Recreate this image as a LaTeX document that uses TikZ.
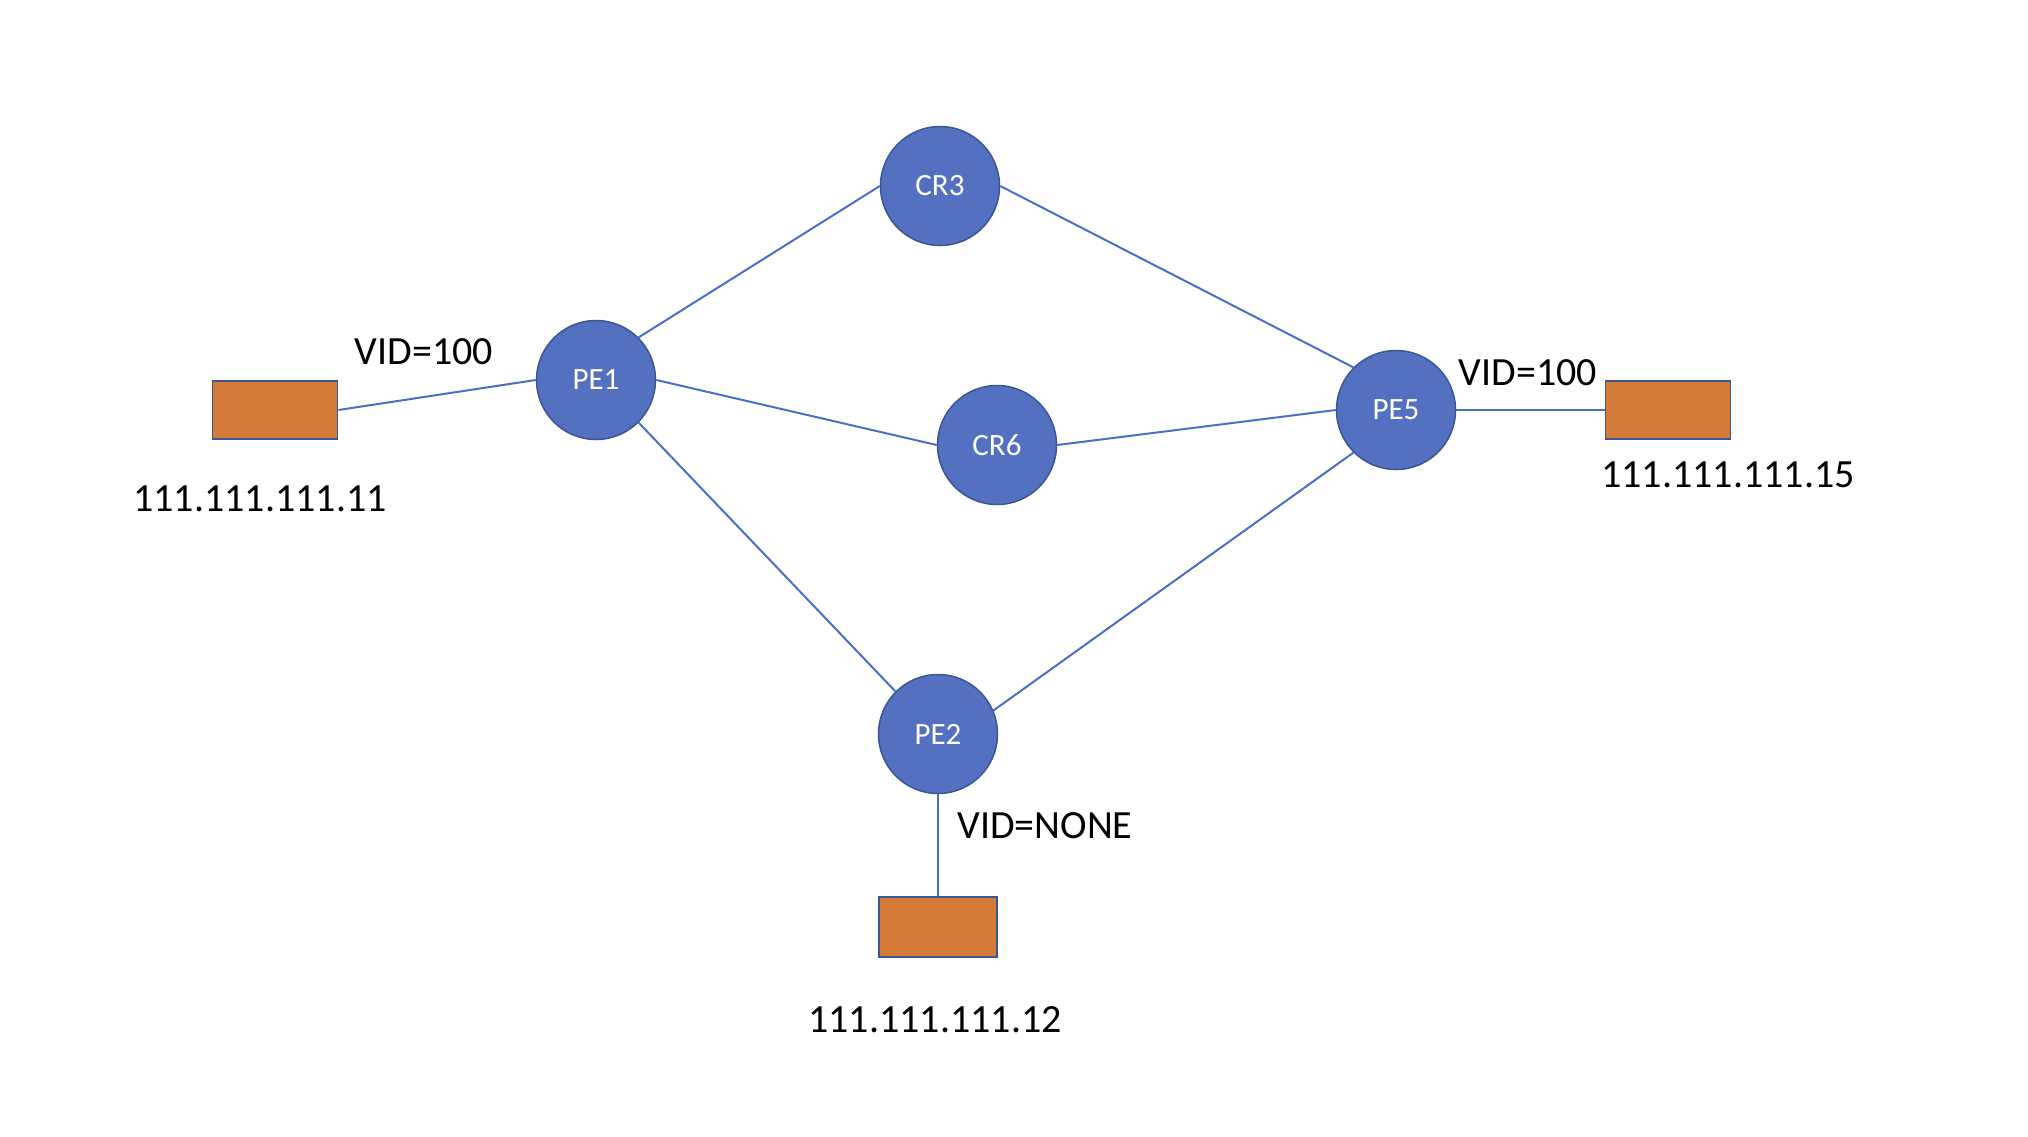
\documentclass[tikz,border=0pt]{standalone}
\usepackage{fontspec}
\setmainfont{Carlito}
\definecolor{nodeblue}{HTML}{5470C1}
\definecolor{nodeedge}{HTML}{3A5794}
\definecolor{linkblue}{HTML}{4A6FC8}
\definecolor{boxorange}{HTML}{D47B3A}
\definecolor{boxedge}{HTML}{3A5794}
\begin{document}
\begin{tikzpicture}[x=0.5pt,y=-0.5pt,
  router/.style={circle,fill=nodeblue,draw=nodeedge,line width=0.75pt,minimum size=59.5pt,inner sep=0pt,text=white,font=\fontsize{15.5}{18}\selectfont},
  host/.style={rectangle,fill=boxorange,draw=boxedge,line width=0.9pt,minimum width=62.5pt,minimum height=29pt,inner sep=0pt},
  hosthalf/.style={host,minimum width=59pt,minimum height=30pt},
  lbl/.style={inner sep=0pt,anchor=base,font=\fontsize{20}{24}\selectfont},
  link/.style={draw=linkblue,line width=1pt}]
\useasboundingbox (0,0) rectangle (2028,1136);
\node[host] (H1) at (275,410) {};
\node[host] (H5) at (1668,410) {};
\node[hosthalf] (H2) at (938,927) {};
\node[router] (PE1) at (596,380) {PE1};
\node[router] (CR3) at (940,186) {CR3};
\node[router] (CR6) at (997,445) {CR6};
\node[router] (PE5) at (1396,410) {PE5};
\node[router] (PE2) at (938,734) {PE2};
\draw[link] (PE1.north east) -- (CR3.west);
\draw[link] (PE1.east) -- (CR6.west);
\draw[link] (PE1.south east) -- (PE2.north west);
\draw[link] (CR3.east) -- (PE5.north west);
\draw[link] (CR6.east) -- (PE5.west);
\draw[link] (PE2.23) -- (PE5.south west);
\draw[link] (H1.east) -- (PE1.west);
\draw[link] (PE5.east) -- (H5.west);
\draw[link] (PE2.south) -- (H2.north);
\node[lbl] (v1) at (424,364) {VID=100};
\node[lbl] (v5) at (1528,385) {VID=100};
\node[lbl] (v2) at (1045,838) {VID=NONE};
\node[lbl] (ip11) at (260,511) {111.111.111.11};
\node[lbl] (ip15) at (1728,487) {111.111.111.15};
\node[lbl] (ip12) at (935,1032) {111.111.111.12};
\end{tikzpicture}
\end{document}
